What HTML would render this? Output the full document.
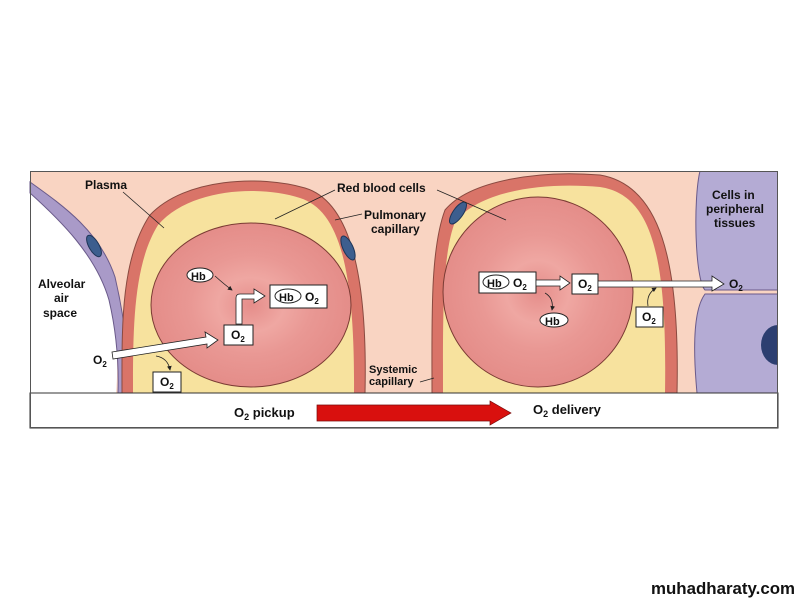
<!DOCTYPE html>
<html><head><meta charset="utf-8"><style>
html,body{margin:0;padding:0;background:#fff;}
svg{display:block;}
text{font-family:"Liberation Sans",Arial,sans-serif;font-weight:bold;fill:#111;}
</style></head><body>
<svg width="801" height="601" viewBox="0 0 801 601" xmlns="http://www.w3.org/2000/svg">
<defs>
<radialGradient id="rbc" cx="50%" cy="50%" r="55%">
<stop offset="0" stop-color="#e58d8a"/><stop offset="0.3" stop-color="#efa7a2"/><stop offset="0.55" stop-color="#e99894"/><stop offset="1" stop-color="#e38a86"/>
</radialGradient>
<clipPath id="box"><rect x="30" y="171" width="748" height="222"/></clipPath>
<marker id="ah" markerWidth="6" markerHeight="6" refX="5" refY="3" orient="auto"><path d="M0,0 L6,3 L0,6 z" fill="#222"/></marker>
</defs>
<rect x="30" y="171" width="748" height="222" fill="#f9d4c2"/>
<path d="M30,190 C60,215 95,250 110,300 C118,340 118,370 116,393 L30,393 Z" fill="#fff"/>
<path d="M30,182 C65,207 100,232 115,277 C125,320 129,360 129,393 L118,393 C119,360 116,330 109,300 C96,255 60,220 30,193 Z" fill="#a99ac8" stroke="#6a5a8a" stroke-width="1"/>
<ellipse cx="94" cy="246" rx="5" ry="12" transform="rotate(-30 94 246)" fill="#3d5e8e" stroke="#1e3557"/>
<path d="M122,393 C122,330 120,260 150,215 C185,178 260,175 305,188 C345,200 368,260 365,393 Z" fill="#d97468" stroke="#8a4a40" stroke-width="1"/>
<path d="M133,393 C133,330 133,265 158,225 C190,188 260,185 300,198 C338,210 355,265 354,393 Z" fill="#f7e29e"/>
<ellipse cx="348" cy="248" rx="5" ry="13" transform="rotate(-25 348 248)" fill="#3d5e8e" stroke="#1e3557"/>
<ellipse cx="251" cy="305" rx="100" ry="82" fill="url(#rbc)" stroke="#7a3b33" stroke-width="1"/>
<path d="M432,393 C432,320 430,250 445,210 C470,180 540,170 600,175 C660,185 680,260 677,393 Z" fill="#d97468" stroke="#8a4a40" stroke-width="1"/>
<path d="M443,393 C443,320 442,255 455,222 C480,190 545,182 600,187 C655,195 667,265 665,393 Z" fill="#f7e29e"/>
<ellipse cx="458" cy="213" rx="5" ry="13" transform="rotate(35 458 213)" fill="#3d5e8e" stroke="#1e3557"/>
<ellipse cx="538" cy="292" rx="95" ry="95" fill="url(#rbc)" stroke="#7a3b33" stroke-width="1"/>
<g clip-path="url(#box)">
<path d="M700,171 L778,171 L778,290 L705,290 C695,280 693,200 700,171 Z" fill="#b4abd4" stroke="#6a5a8a"/>
<path d="M705,294 L778,294 L778,393 L697,393 C693,350 693,310 705,294 Z" fill="#b4abd4" stroke="#6a5a8a"/>
<ellipse cx="778" cy="345" rx="17" ry="20" fill="#2c3e70"/>
</g>
<rect x="30" y="393" width="748" height="35" fill="#fff" stroke="#333" stroke-width="1"/>
<rect x="30.5" y="171.5" width="747" height="256" fill="none" stroke="#555" stroke-width="1"/>
<path d="M317,405 L490,405 L490,401 L511,413 L490,425 L490,421 L317,421 Z" fill="#d9100e" stroke="#7a0a0a" stroke-width="0.7"/>
<text x="234" y="417" font-size="13">O<tspan font-size="9" dy="3">2</tspan><tspan dy="-3"> pickup</tspan></text>
<text x="533" y="414" font-size="13">O<tspan font-size="9" dy="3">2</tspan><tspan dy="-3"> delivery</tspan></text>
<text x="85" y="189" font-size="12">Plasma</text>
<line x1="123" y1="192" x2="164" y2="228" stroke="#222" stroke-width="0.8"/>
<text x="337" y="192" font-size="12">Red blood cells</text>
<line x1="335" y1="190" x2="275" y2="219" stroke="#222" stroke-width="0.8"/>
<line x1="437" y1="190" x2="506" y2="220" stroke="#222" stroke-width="0.8"/>
<text x="364" y="219" font-size="12">Pulmonary</text>
<text x="371" y="233" font-size="12">capillary</text>
<line x1="362" y1="214" x2="335" y2="220" stroke="#222" stroke-width="0.8"/>
<text x="38" y="288" font-size="12">Alveolar</text>
<text x="54" y="302" font-size="12">air</text>
<text x="43" y="317" font-size="12">space</text>
<text x="369" y="373" font-size="11">Systemic</text>
<text x="369" y="385" font-size="11">capillary</text>
<line x1="420" y1="382" x2="434" y2="378" stroke="#222" stroke-width="0.8"/>
<text x="712" y="199" font-size="12">Cells in</text>
<text x="706" y="213" font-size="12">peripheral</text>
<text x="714" y="227" font-size="12">tissues</text>
<path d="M112,352 L206,337 L205,332 L218,340 L207,348 L207,344 L113,359 Z" fill="#fff" stroke="#222" stroke-width="0.8"/>
<text x="93" y="364" font-size="12">O<tspan font-size="8" dy="3">2</tspan></text>
<path d="M156,356 Q168,358 170,370" fill="none" stroke="#222" stroke-width="0.8" marker-end="url(#ah)"/>
<rect x="153" y="372" width="28" height="20" fill="#fff" stroke="#222"/>
<text x="160" y="386" font-size="12">O<tspan font-size="8" dy="3">2</tspan></text>
<rect x="224" y="325" width="29" height="20" fill="#fff" stroke="#222"/>
<text x="231" y="339" font-size="12">O<tspan font-size="8" dy="3">2</tspan></text>
<path d="M236,324 L236,298 Q236,294 240,294 L254,294 L254,289 L265,296 L254,303 L254,299 L242,299 L242,324 Z" fill="#fff" stroke="#222" stroke-width="0.8"/>
<ellipse cx="200" cy="275" rx="13" ry="7" fill="#fff" stroke="#222"/>
<text x="191" y="280" font-size="11">Hb</text>
<path d="M215,276 Q225,285 232,290" fill="none" stroke="#222" stroke-width="0.8" marker-end="url(#ah)"/>
<rect x="270" y="285" width="57" height="23" fill="#fff" stroke="#222"/>
<ellipse cx="288" cy="296" rx="13" ry="7" fill="#fff" stroke="#222"/>
<text x="279" y="301" font-size="11">Hb</text>
<text x="305" y="301" font-size="12">O<tspan font-size="8" dy="3">2</tspan></text>
<rect x="479" y="272" width="57" height="21" fill="#fff" stroke="#222"/>
<ellipse cx="496" cy="282" rx="13" ry="7" fill="#fff" stroke="#222"/>
<text x="487" y="287" font-size="11">Hb</text>
<text x="513" y="287" font-size="12">O<tspan font-size="8" dy="3">2</tspan></text>
<path d="M536,280 L560,280 L560,276 L570,283 L560,290 L560,286 L536,286 Z" fill="#fff" stroke="#222" stroke-width="0.8"/>
<rect x="572" y="274" width="26" height="20" fill="#fff" stroke="#222"/>
<text x="578" y="288" font-size="12">O<tspan font-size="8" dy="3">2</tspan></text>
<path d="M598,281 L712,281 L712,276 L724,284 L712,291 L712,287 L598,287 Z" fill="#fff" stroke="#222" stroke-width="0.8"/>
<text x="729" y="288" font-size="12">O<tspan font-size="8" dy="3">2</tspan></text>
<path d="M545,293 Q554,298 552,310" fill="none" stroke="#222" stroke-width="0.8" marker-end="url(#ah)"/>
<ellipse cx="554" cy="320" rx="14" ry="7" fill="#fff" stroke="#222"/>
<text x="545" y="325" font-size="11">Hb</text>
<rect x="636" y="307" width="27" height="20" fill="#fff" stroke="#222"/>
<text x="642" y="321" font-size="12">O<tspan font-size="8" dy="3">2</tspan></text>
<path d="M648,306 Q646,294 656,288" fill="none" stroke="#222" stroke-width="0.8" marker-end="url(#ah)"/>
<text x="651" y="594" font-size="17" textLength="144" lengthAdjust="spacingAndGlyphs" fill="#111">muhadharaty.com</text>
</svg>
</body></html>
